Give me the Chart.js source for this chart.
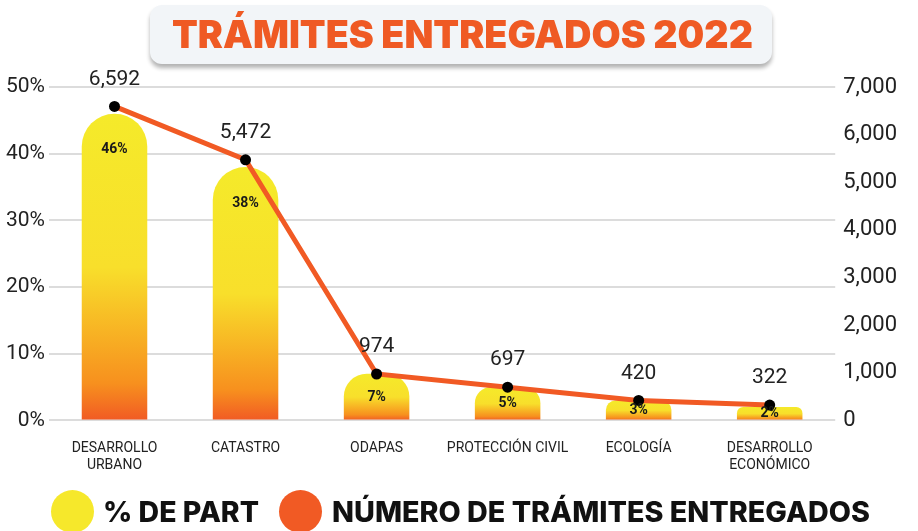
<!DOCTYPE html>
<html>
<head>
<meta charset="utf-8">
<script src="https://cdn.jsdelivr.net/npm/chart.js@4"></script>
<style>
  html, body { margin: 0; padding: 0; background: #fff; }
  body { width: 918px; height: 531px; position: relative; overflow: hidden; font-family: Roboto, sans-serif; }
  #chart { position: absolute; left: 0; top: 0; }
  .title-box {
    position: absolute; left: 150px; top: 5px; width: 622px; height: 59px;
    background: #f2f5f8; border-radius: 12px; box-shadow: 0 4px 4px rgba(0,0,0,0.3);
  }
  .fit { position: absolute; display: inline-block; white-space: nowrap; transform-origin: left center; }
  .title-box .fit { left: 22px; top: 6px; color: #ef5a24; font-family: Inter, sans-serif; font-weight: 900; font-size: 38px; line-height: 46px; }
  .legend { position: absolute; top: 489px; left: 0; width: 918px; height: 44px; }
  .dot { position: absolute; width: 43px; height: 43px; border-radius: 50%; top: 1px; }
  .lg-text { top: 1px; font-family: Inter, sans-serif; font-weight: 800; font-size: 28px; color: #111; line-height: 44px; }
</style>
</head>
<body>
<canvas id="chart" width="918" height="531"></canvas>
<div class="title-box"><span class="fit" id="title" data-w="581">TRÁMITES ENTREGADOS 2022</span></div>
<div class="legend">
  <div class="dot" style="left:51px;background:#f6e82b"></div>
  <span class="lg-text fit" style="left:103px" data-w="156">% DE PART</span>
  <div class="dot" style="left:279px;background:#f15a24"></div>
  <span class="lg-text fit" style="left:332px" data-w="538">NÚMERO DE TRÁMITES ENTREGADOS</span>
</div>
<script>
// data
const categories = [['DESARROLLO', 'URBANO'], 'CATASTRO', 'ODAPAS', 'PROTECCIÓN CIVIL', 'ECOLOGÍA', ['DESARROLLO', 'ECONÓMICO']];
const partPct = [0.46, 0.38, 0.07, 0.05, 0.03, 0.02];
const partLabels = ['46%', '38%', '7%', '5%', '3%', '2%'];
const tramites = [6592, 5472, 974, 697, 420, 322];

// squeeze text to the width seen in the picture
document.querySelectorAll('.fit').forEach(function (el) {
  const w = +el.dataset.w;
  const s = w / el.getBoundingClientRect().width;
  el.style.transform = 'scaleX(' + s + ')';
});

function barGradient(c) {
  const chart = c.chart;
  if (!chart.chartArea) return '#f6e82b';
  const y = chart.scales.y;
  const top = y.getPixelForValue(c.raw);
  const base = y.getPixelForValue(0);
  const g = chart.ctx.createLinearGradient(0, base, 0, top);
  g.addColorStop(0, '#f15a24');
  g.addColorStop(0.12, '#f7901e');
  g.addColorStop(0.5, '#f8df2b');
  g.addColorStop(1, '#f5ea2a');
  return g;
}

const valueLabels = {
  id: 'valueLabels',
  afterDatasetsDraw(chart) {
    const ctx = chart.ctx;
    ctx.save();
    ctx.textAlign = 'center';
    ctx.textBaseline = 'middle';
    // bar labels
    const bars = chart.getDatasetMeta(0).data;
    const base = chart.scales.y.getPixelForValue(0);
    ctx.font = 'bold 14px Roboto';
    ctx.fillStyle = '#1a1a1a';
    bars.forEach(function (b, i) {
      const h = base - b.y;
      ctx.fillText(partLabels[i], b.x, b.y + Math.min(36, h * 0.5));
    });
    // line labels
    const pts = chart.getDatasetMeta(1).data;
    ctx.font = '21px Roboto';
    ctx.fillStyle = '#222';
    pts.forEach(function (p, i) {
      ctx.fillText(tramites[i].toLocaleString('en-US'), p.x, p.y - 27);
    });
    ctx.restore();
  }
};

new Chart(document.getElementById('chart'), {
  data: {
    labels: categories,
    datasets: [
      {
        type: 'bar',
        label: '% DE PART',
        data: partPct,
        yAxisID: 'y',
        backgroundColor: barGradient,
        borderRadius: { topLeft: 40, topRight: 40 },
        borderSkipped: 'start',
        barPercentage: 0.5,
        categoryPercentage: 1,
        order: 2
      },
      {
        type: 'line',
        label: 'NÚMERO DE TRÁMITES ENTREGADOS',
        data: tramites,
        yAxisID: 'y1',
        borderColor: '#f15a24',
        borderWidth: 5,
        pointRadius: 5.5,
        pointBackgroundColor: '#000',
        pointBorderWidth: 0,
        tension: 0,
        order: 1
      }
    ]
  },
  options: {
    responsive: false,
    animation: false,
    layout: { padding: { top: 87, left: 2, right: 13, bottom: 45 } },
    plugins: { legend: { display: false }, tooltip: { enabled: false } },
    scales: {
      x: {
        grid: { display: false },
        border: { display: false },
        ticks: { color: '#222', font: { family: 'Roboto', size: 14 }, padding: 12, maxRotation: 0, autoSkip: false }
      },
      y: {
        position: 'left',
        min: 0,
        max: 0.5,
        ticks: {
          stepSize: 0.1,
          color: '#222',
          font: { family: 'Roboto', size: 21 },
          padding: 4,
          callback: function (v) { return Math.round(v * 100) + '%'; }
        },
        grid: { color: '#dcdcdc', lineWidth: 2, drawTicks: false },
        border: { display: false }
      },
      y1: {
        position: 'right',
        min: 0,
        max: 7000,
        ticks: {
          stepSize: 1000,
          color: '#222',
          font: { family: 'Roboto', size: 22 },
          padding: 8,
          callback: function (v) { return v.toLocaleString('en-US'); }
        },
        grid: { display: false, drawTicks: false },
        border: { display: false }
      }
    }
  },
  plugins: [valueLabels]
});
</script>
</body>
</html>
